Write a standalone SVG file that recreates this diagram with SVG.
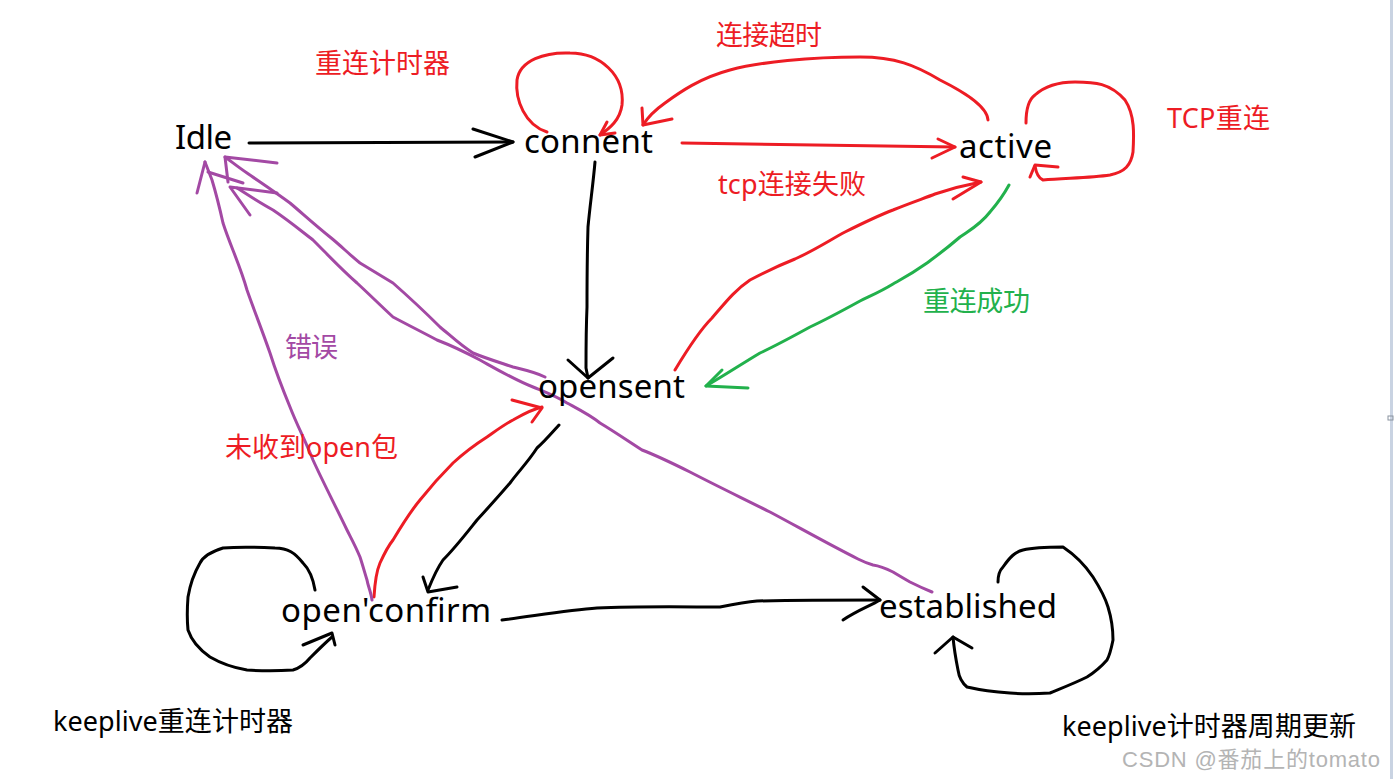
<svg xmlns="http://www.w3.org/2000/svg" width="1395" height="779" viewBox="0 0 1395 779">
<style>
.n{font-family:"Noto Sans","Noto Sans CJK SC",sans-serif;font-size:33px;fill:#000}
.l{font-family:"Noto Sans","Noto Sans CJK SC",sans-serif;font-size:27px}
.r{fill:#ED1C24}.g{fill:#22B14C}.p{fill:#A349A4}.k{fill:#000}
.s{fill:none;stroke-width:3;stroke-linecap:round;stroke-linejoin:round}
.sk{stroke:#000}.sr{stroke:#ED1C24}.sg{stroke:#22B14C}.sp{stroke:#A349A4}
.wm{font-family:"Liberation Sans","Noto Sans CJK SC",sans-serif;font-size:22px;fill:#b4b4b4}
</style>
<rect width="1395" height="779" fill="#fff"/>
<rect x="1390" y="0" width="3" height="779" fill="#c9d3e2"/>
<rect x="1388" y="416" width="5" height="4" fill="none" stroke="#8a93a0" stroke-width="1"/>

<g id="connectors">
  <!-- Idle -> connent -->
  <path class="s sk" d="M249,143 L513,142"/>
  <path class="s sk" d="M473,129 L513,142 L475,157"/>
  <!-- connent self loop -->
  <path class="s sr" d="M547,132 C525,125 515,100 517,80 C520,60 545,52 570,53 C600,53 625,75 622,105 C620,120 610,128 600,135"/>
  <path class="s sr" d="M607,122 L600,135 L615,133"/>
  <!-- active -> connent (timeout) -->
  <path class="s sr" d="M988,120 C987,105 960,90 940,80 C915,65 895,57 860,57 C810,57 760,62 730,70 C700,78 680,92 665,103 C655,110 648,117 643,125"/>
  <path class="s sr" d="M642,108 L643,125 L672,119"/>
  <!-- connent -> active -->
  <path class="s sr" d="M682,143 L955,147"/>
  <path class="s sr" d="M938,139 L955,147 L932,158"/>
  <!-- active self loop -->
  <path class="s sr" d="M1026,123 C1026,110 1028,100 1035,95 C1045,86 1060,82 1075,82 C1095,82 1110,83 1125,100 C1135,115 1134,135 1133,152 C1131,165 1125,172 1110,175 C1090,178 1065,178 1043,180 C1038,178 1036,172 1035,166"/>
  <path class="s sr" d="M1030,177 L1035,165 L1058,167"/>
  <!-- opensent -> active (tcp fail) -->
  <path class="s sr" d="M675,370 C690,345 700,330 712,318 C725,303 735,290 750,280 C765,272 780,265 795,259 C815,250 830,240 845,232 C865,222 880,215 893,210 C910,203 925,198 935,194 C950,189 965,185 981,182"/>
  <path class="s sr" d="M963,177 L981,182 L953,199"/>
  <!-- active -> opensent (reconnect success) -->
  <path class="s sg" d="M1009,185 C1002,198 996,205 990,212 C980,225 970,230 960,237 C945,250 935,257 927,263 C910,275 900,280 893,284 C880,292 870,296 860,301 C840,312 825,320 810,327 C790,338 775,346 760,353 C740,365 725,375 706,386"/>
  <path class="s sg" d="M722,370 L706,386 L748,388"/>
  <!-- connent -> opensent -->
  <path class="s sk" d="M595,162 C593,185 590,205 588,227 C587,260 587,285 587,307 C586,330 586,350 586,368 L588,378"/>
  <path class="s sk" d="M568,360 L588,378 L613,358"/>
  <!-- opensent -> open'confirm -->
  <path class="s sk" d="M559,425 C550,435 544,442 537,448 C528,462 518,472 510,483 C498,497 488,508 477,520 C465,535 455,548 443,560 C436,570 432,580 428,590"/>
  <path class="s sk" d="M423,577 L428,592 L457,587"/>
  <!-- open'confirm -> opensent (no open) -->
  <path class="s sr" d="M374,597 C375,580 377,570 380,563 C385,552 389,545 393,540 C402,525 410,512 420,500 C432,485 442,474 453,463 C465,452 476,444 487,437 C497,430 505,424 513,420 C522,415 530,410 542,407"/>
  <path class="s sr" d="M512,400 L542,408 L532,422"/>
  <!-- open'confirm -> established -->
  <path class="s sk" d="M502,620 C540,615 570,610 597,608 C640,606 690,607 720,607 C735,604 745,602 757,601 C800,600 840,600 880,600"/>
  <path class="s sk" d="M863,587 L880,600 C870,606 858,610 843,620"/>
  <!-- open'confirm self loop -->
  <path class="s sk" d="M315,590 C313,578 310,570 303,563 C295,553 288,548 275,548 C255,547 235,547 223,548 C210,552 203,557 200,563 C193,575 190,585 188,597 C187,610 187,620 188,630 C192,642 200,650 210,657 C222,664 235,668 247,670 C262,671 278,671 293,670 C300,668 305,664 310,658 C318,650 325,643 332,637"/>
  <path class="s sk" d="M303,645 L332,633 L335,645"/>
  <!-- established self loop -->
  <path class="s sk" d="M998,582 C998,575 1000,570 1003,567 C1010,557 1015,552 1023,550 C1035,547 1050,547 1063,547 C1075,555 1085,565 1093,577 C1100,588 1105,597 1108,607 C1112,620 1113,630 1113,640 C1111,650 1110,655 1107,660 C1100,668 1095,672 1087,677 C1075,683 1062,688 1050,693 C1035,694 1022,694 1010,693 C995,692 980,690 967,687 C961,682 959,677 958,670 C956,660 954,648 953,637"/>
  <path class="s sk" d="M935,653 L953,637 L972,648"/>
  <!-- open'confirm -> Idle (purple, left) -->
  <path class="s sp" d="M372,600 C371,592 368,586 367,580 C364,570 362,563 360,557 C355,545 351,538 347,530 C335,505 322,480 313,460 C305,440 297,425 290,407 C283,390 276,372 270,353 C262,330 254,310 247,290 C240,265 230,245 223,223 C219,205 215,190 212,180 L205,162"/>
  <path class="s sp" d="M197,193 L205,162"/>
  <path class="s sp" d="M208,172 L243,183"/>
  <!-- opensent -> Idle (purple, upper) -->
  <path class="s sp" d="M545,377 C535,372 525,370 513,367 C498,362 485,358 473,353 C460,345 450,335 440,327 C425,312 410,298 393,283 C380,275 370,269 360,263 C350,255 340,245 330,237 C315,225 303,214 290,203 C275,192 260,182 247,173 C238,167 232,162 225,157"/>
  <path class="s sp" d="M277,163 L225,157 L228,182"/>
  <!-- established -> Idle (purple, long) -->
  <path class="s sp" d="M932,592 C922,588 916,585 910,582 C903,578 898,575 893,572 C885,568 880,566 873,565 C866,563 862,561 858,559 C830,545 800,528 770,512 C740,497 715,485 690,472 C670,462 655,455 642,450 C628,441 615,432 600,423 C590,415 578,409 567,403 C556,396 545,392 533,387 C515,380 498,370 480,360 C465,352 450,345 437,340 C422,332 408,325 393,317 C380,305 370,295 357,283 C342,270 328,255 313,240 C300,230 288,220 273,210 C260,203 248,195 237,188"/>
  <path class="s sp" d="M277,193 L230,187 L250,215"/>
</g>

<g id="idle"><text class="n" x="175" y="149" textLength="57">Idle</text></g>
<g id="connent"><text class="n" x="524" y="153" textLength="129">connent</text></g>
<g id="active"><text class="n" x="959" y="158" textLength="93">active</text></g>
<g id="opensent"><text class="n" x="538" y="398" textLength="147">opensent</text></g>
<g id="openconfirm"><text class="n" x="281" y="622" textLength="210">open'confirm</text></g>
<g id="established"><text class="n" x="879" y="618" textLength="178">established</text></g>

<g id="labels">
  <text class="l r" x="315" y="73" textLength="135">重连计时器</text>
  <text class="l r" x="716" y="45" textLength="106">连接超时</text>
  <text class="l r" x="1167" y="128" textLength="103">TCP重连</text>
  <text class="l r" x="718" y="194" textLength="148">tcp连接失败</text>
  <text class="l g" x="923" y="311" textLength="107">重连成功</text>
  <text class="l p" x="285" y="357" textLength="53">错误</text>
  <text class="l r" x="225" y="457" textLength="173">未收到open包</text>
  <text class="l k" x="53" y="731" textLength="240">keeplive重连计时器</text>
  <text class="l k" x="1062" y="736" textLength="294">keeplive计时器周期更新</text>
  <text class="wm" x="1122" y="767" textLength="258">CSDN @番茄上的tomato</text>
</g>
</svg>
